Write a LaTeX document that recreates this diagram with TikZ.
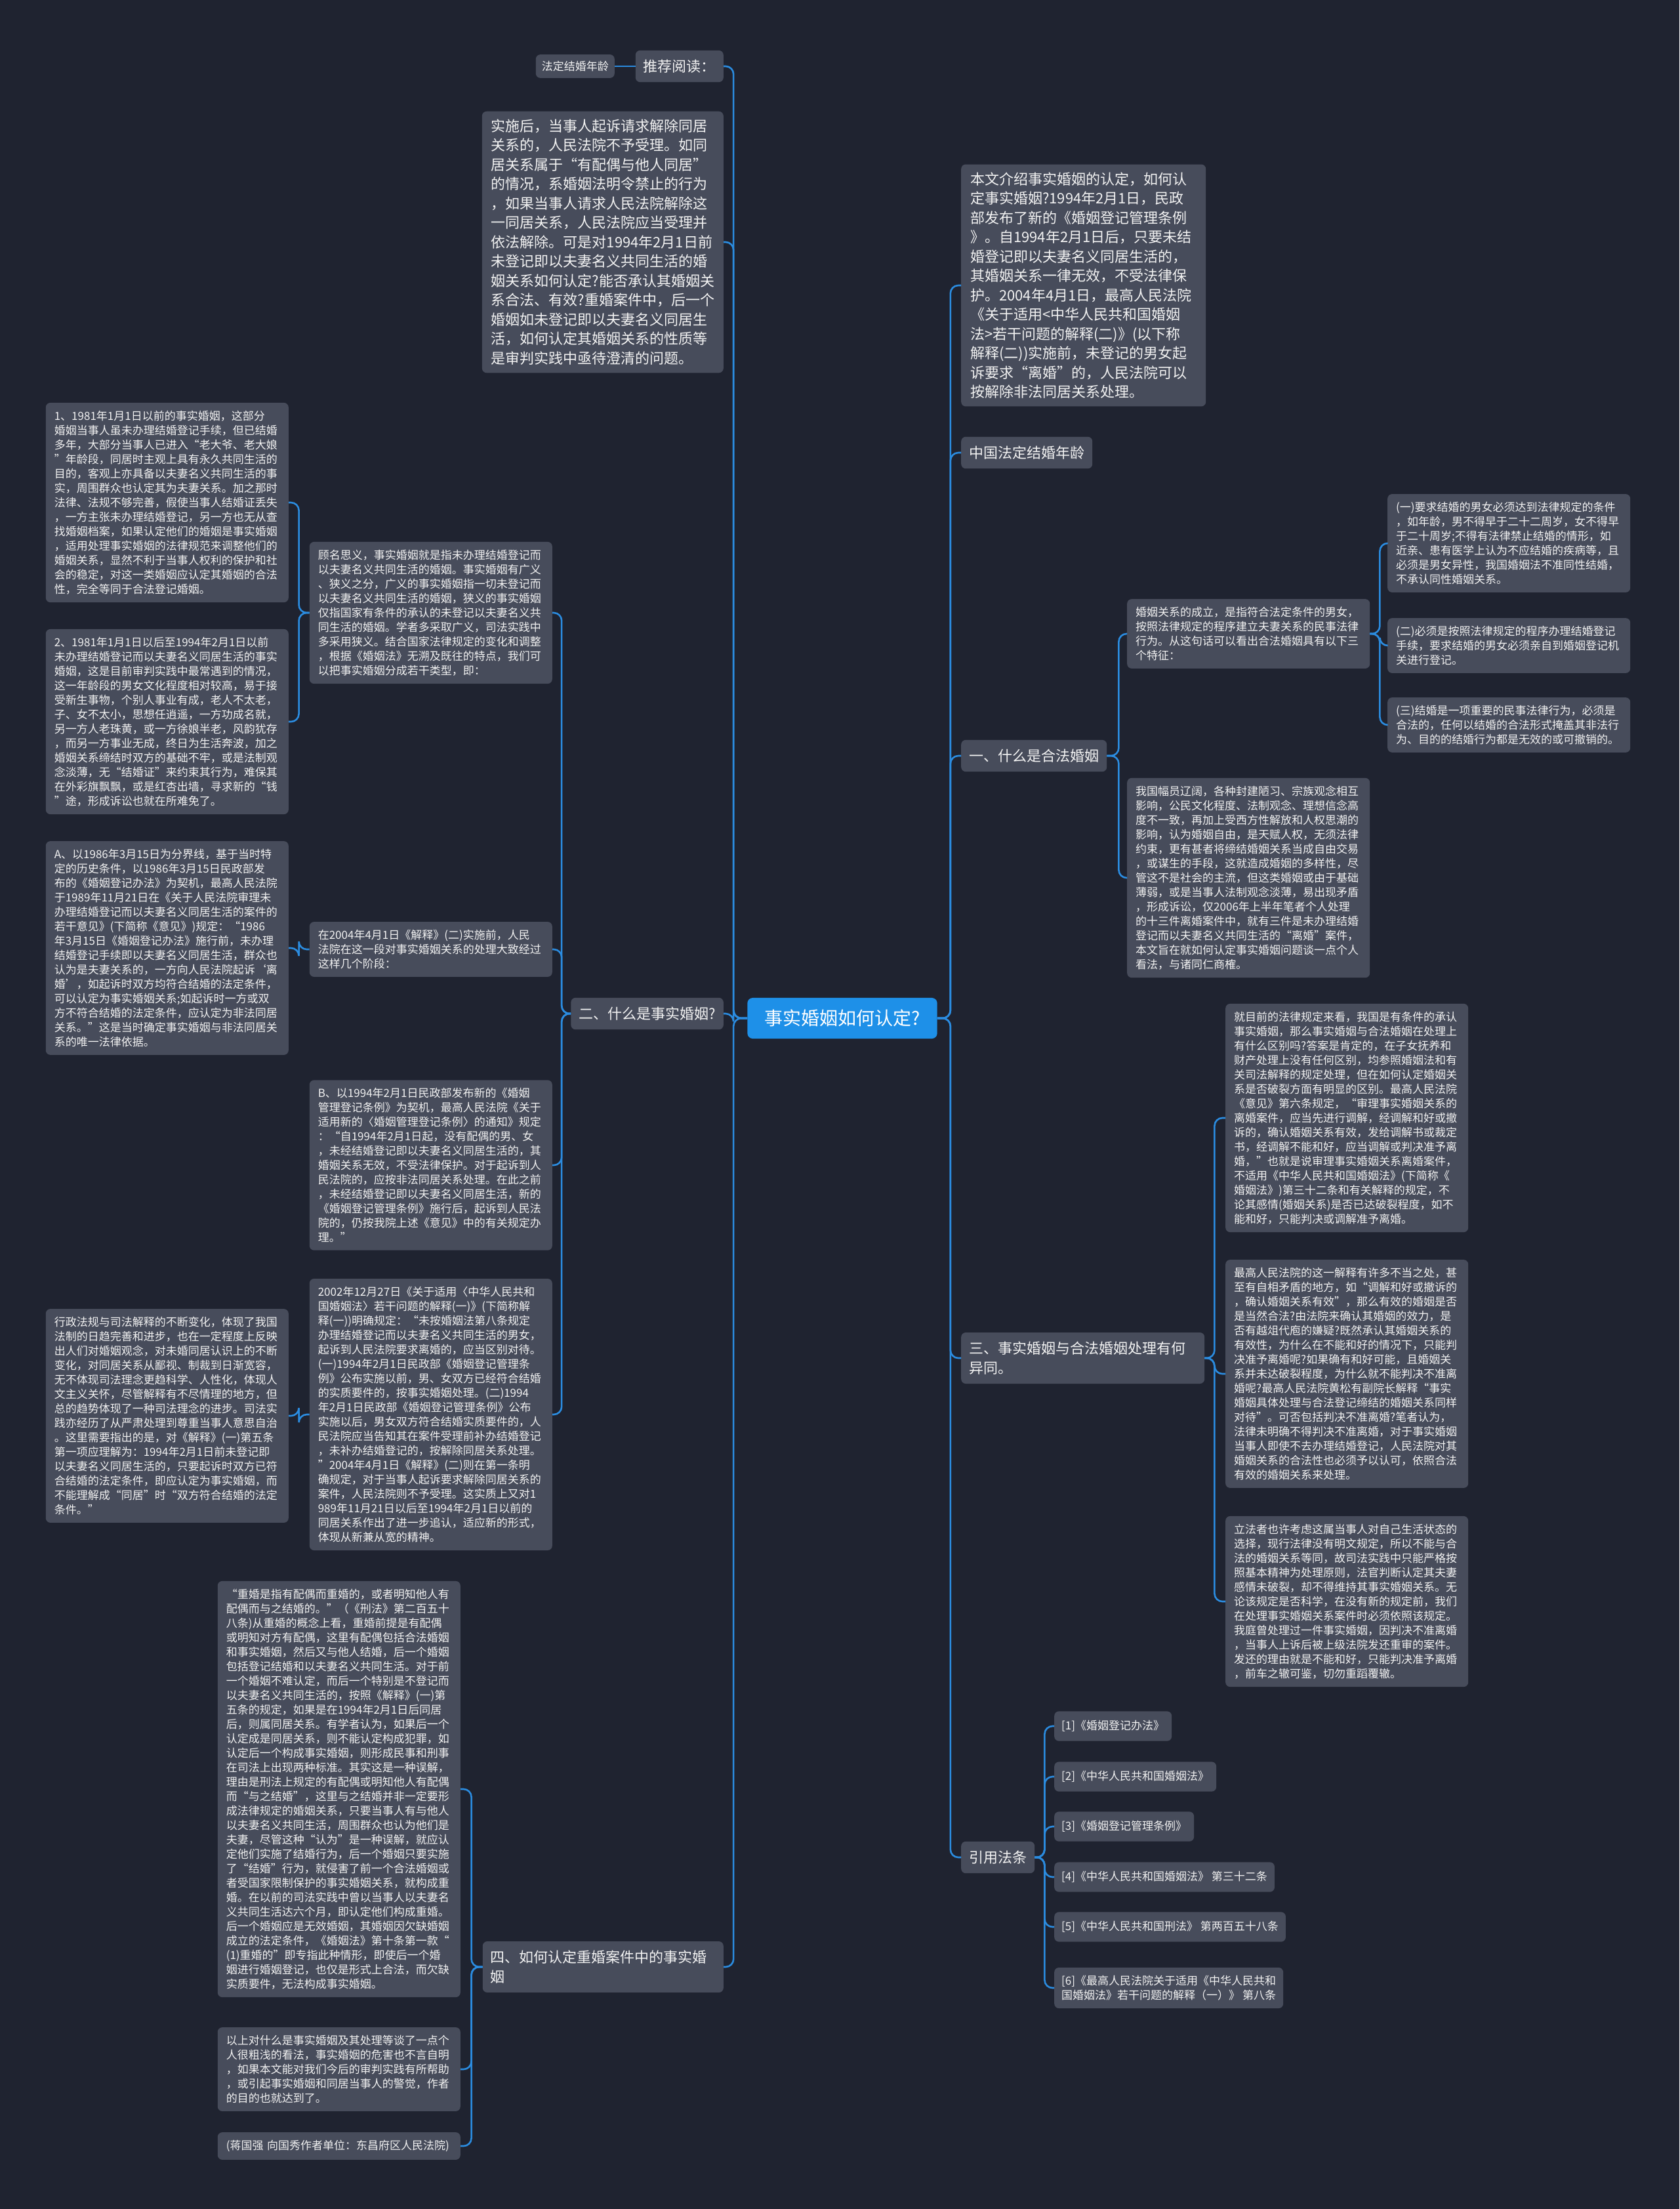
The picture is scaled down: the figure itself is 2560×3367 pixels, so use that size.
\documentclass[tikz,border=0pt]{standalone}
\usepackage{fontspec}
\newfontfamily\cjk{Noto Sans CJK SC}
\definecolor{bgc}{HTML}{1F2330}
\definecolor{boxc}{HTML}{474C5B}
\definecolor{rootc}{HTML}{1E90E8}
\definecolor{linec}{HTML}{2B8CE0}
\definecolor{txt}{HTML}{F2F2F2}
\tikzset{
  basebox/.style={fill=boxc, rounded corners=7pt, text=txt},
  small/.style={basebox, font=\cjk\fontsize{17}{22}\selectfont, inner xsep=13pt, inner ysep=12pt, align=left},
  cbox/.style={small, text width=344pt},
  big/.style={basebox, font=\cjk\fontsize{22}{29.5}\selectfont, inner xsep=12pt, inner ysep=14pt, align=left},
  bigbox/.style={big, text width=345pt, inner xsep=14pt, inner ysep=12pt},
  refbox/.style={small, inner xsep=11pt, inner ysep=14pt},
  rootbox/.style={fill=rootc, rounded corners=8pt, text=white, font=\cjk\fontsize{28}{34}\selectfont, inner xsep=26pt, inner ysep=18pt},
  conn/.style={draw=linec, line width=2.6pt, rounded corners=12pt},
}
\begin{document}
\begin{tikzpicture}[x=1pt,y=-1pt]
\fill[bgc] (0,0) rectangle (2560,3367);
\useasboundingbox (0,0) rectangle (2560,3367);

\node[rootbox] (root) at (1284,1552) {事实婚姻如何认定?};

% ---------- right level 1
\node[bigbox,anchor=west] (R1) at (1465,435) {本文介绍事实婚姻的认定，如何认\\定事实婚姻?1994年2月1日，民政\\部发布了新的《婚姻登记管理条例\\》。自1994年2月1日后，只要未结\\婚登记即以夫妻名义同居生活的，\\其婚姻关系一律无效，不受法律保\\护。2004年4月1日，最高人民法院\\《关于适用<中华人民共和国婚姻\\法>若干问题的解释(二)》(以下称\\解释(二))实施前，未登记的男女起\\诉要求“离婚”的，人民法院可以\\按解除非法同居关系处理。};
\node[big,anchor=west] (R2) at (1465,690) {中国法定结婚年龄};
\node[big,anchor=west] (R3) at (1465,1152) {一、什么是合法婚姻};
\node[big,anchor=west,text width=347pt] (R4) at (1465,2070) {三、事实婚姻与合法婚姻处理有何\\异同。};
\node[big,anchor=west] (R5) at (1465,2831) {引用法条};

% ---------- left level 1
\node[big,anchor=east] (L1) at (1103,101) {推荐阅读：};
\node[small,anchor=east,inner xsep=9pt,inner ysep=10pt] (L1a) at (937,101) {法定结婚年龄};
\node[bigbox,anchor=east,text width=340pt] (L2) at (1103,369) {实施后，当事人起诉请求解除同居\\关系的，人民法院不予受理。如同\\居关系属于“有配偶与他人同居”\\的情况，系婚姻法明令禁止的行为\\，如果当事人请求人民法院解除这\\一同居关系，人民法院应当受理并\\依法解除。可是对1994年2月1日前\\未登记即以夫妻名义共同生活的婚\\姻关系如何认定?能否承认其婚姻关\\系合法、有效?重婚案件中，后一个\\婚姻如未登记即以夫妻名义同居生\\活，如何认定其婚姻关系的性质等\\是审判实践中亟待澄清的问题。};
\node[big,anchor=east] (L3) at (1103,1545) {二、什么是事实婚姻?};
\node[big,anchor=east,text width=343pt] (L4) at (1103,2998) {四、如何认定重婚案件中的事实婚\\姻};

% ---------- under 一、什么是合法婚姻
\node[cbox,anchor=west] (H1) at (1718,966) {婚姻关系的成立，是指符合法定条件的男女，\\按照法律规定的程序建立夫妻关系的民事法律\\行为。从这句话可以看出合法婚姻具有以下三\\个特征：};
\node[cbox,anchor=west] (H2) at (1718,1338) {我国幅员辽阔，各种封建陋习、宗族观念相互\\影响，公民文化程度、法制观念、理想信念高\\度不一致，再加上受西方性解放和人权思潮的\\影响，认为婚姻自由，是天赋人权，无须法律\\约束，更有甚者将缔结婚姻关系当成自由交易\\，或谋生的手段，这就造成婚姻的多样性，尽\\管这不是社会的主流，但这类婚姻或由于基础\\薄弱，或是当事人法制观念淡薄，易出现矛盾\\，形成诉讼，仅2006年上半年笔者个人处理\\的十三件离婚案件中，就有三件是未办理结婚\\登记而以夫妻名义共同生活的“离婚”案件，\\本文旨在就如何认定事实婚姻问题谈一点个人\\看法，与诸同仁商榷。};
\node[cbox,anchor=west] (T1) at (2115,828) {(一)要求结婚的男女必须达到法律规定的条件\\，如年龄，男不得早于二十二周岁，女不得早\\于二十周岁;不得有法律禁止结婚的情形，如\\近亲、患有医学上认为不应结婚的疾病等，且\\必须是男女异性，我国婚姻法不准同性结婚，\\不承认同性婚姻关系。};
\node[cbox,anchor=west] (T2) at (2115,984) {(二)必须是按照法律规定的程序办理结婚登记\\手续，要求结婚的男女必须亲自到婚姻登记机\\关进行登记。};
\node[cbox,anchor=west] (T3) at (2115,1105) {(三)结婚是一项重要的民事法律行为，必须是\\合法的，任何以结婚的合法形式掩盖其非法行\\为、目的的结婚行为都是无效的或可撤销的。};

% ---------- under 三、
\node[cbox,anchor=west] (S1) at (1868,1704) {就目前的法律规定来看，我国是有条件的承认\\事实婚姻，那么事实婚姻与合法婚姻在处理上\\有什么区别吗?答案是肯定的，在子女抚养和\\财产处理上没有任何区别，均参照婚姻法和有\\关司法解释的规定处理，但在如何认定婚姻关\\系是否破裂方面有明显的区别。最高人民法院\\《意见》第六条规定，“审理事实婚姻关系的\\离婚案件，应当先进行调解，经调解和好或撤\\诉的，确认婚姻关系有效，发给调解书或裁定\\书，经调解不能和好，应当调解或判决准予离\\婚，”也就是说审理事实婚姻关系离婚案件，\\不适用《中华人民共和国婚姻法》(下简称《\\婚姻法》)第三十二条和有关解释的规定，不\\论其感情(婚姻关系)是否已达破裂程度，如不\\能和好，只能判决或调解准予离婚。};
\node[cbox,anchor=west] (S2) at (1868,2094) {最高人民法院的这一解释有许多不当之处，甚\\至有自相矛盾的地方，如“调解和好或撤诉的\\，确认婚姻关系有效”，那么有效的婚姻是否\\是当然合法?由法院来确认其婚姻的效力，是\\否有越俎代庖的嫌疑?既然承认其婚姻关系的\\有效性，为什么在不能和好的情况下，只能判\\决准予离婚呢?如果确有和好可能，且婚姻关\\系并未达破裂程度，为什么就不能判决不准离\\婚呢?最高人民法院黄松有副院长解释“事实\\婚姻具体处理与合法登记缔结的婚姻关系同样\\对待”。可否包括判决不准离婚?笔者认为，\\法律未明确不得判决不准离婚，对于事实婚姻\\当事人即使不去办理结婚登记，人民法院对其\\婚姻关系的合法性也必须予以认可，依照合法\\有效的婚姻关系来处理。};
\node[cbox,anchor=west] (S3) at (1868,2441) {立法者也许考虑这属当事人对自己生活状态的\\选择，现行法律没有明文规定，所以不能与合\\法的婚姻关系等同，故司法实践中只能严格按\\照基本精神为处理原则，法官判断认定其夫妻\\感情未破裂，却不得维持其事实婚姻关系。无\\论该规定是否科学，在没有新的规定前，我们\\在处理事实婚姻关系案件时必须依照该规定。\\我庭曾处理过一件事实婚姻，因判决不准离婚\\，当事人上诉后被上级法院发还重审的案件。\\发还的理由就是不能和好，只能判决准予离婚\\，前车之辙可鉴，切勿重蹈覆辙。};

% ---------- references
\node[refbox,anchor=west] (F1) at (1607,2631) {[1]《婚姻登记办法》};
\node[refbox,anchor=west] (F2) at (1607,2708) {[2]《中华人民共和国婚姻法》};
\node[refbox,anchor=west] (F3) at (1607,2784) {[3]《婚姻登记管理条例》};
\node[refbox,anchor=west] (F4) at (1607,2861) {[4]《中华人民共和国婚姻法》 第三十二条};
\node[refbox,anchor=west] (F5) at (1607,2937) {[5]《中华人民共和国刑法》 第两百五十八条};
\node[refbox,anchor=west,inner ysep=12pt] (F6) at (1607,3030) {[6]《最高人民法院关于适用《中华人民共和\\国婚姻法》若干问题的解释（一）》 第八条};

% ---------- middle column (under 二、)
\node[cbox,anchor=east] (M1) at (842,934) {顾名思义，事实婚姻就是指未办理结婚登记而\\以夫妻名义共同生活的婚姻。事实婚姻有广义\\、狭义之分，广义的事实婚姻指一切未登记而\\以夫妻名义共同生活的婚姻，狭义的事实婚姻\\仅指国家有条件的承认的未登记以夫妻名义共\\同生活的婚姻。学者多采取广义，司法实践中\\多采用狭义。结合国家法律规定的变化和调整\\，根据《婚姻法》无溯及既往的特点，我们可\\以把事实婚姻分成若干类型，即：};
\node[cbox,anchor=east] (M2) at (842,1447) {在2004年4月1日《解释》(二)实施前，人民\\法院在这一段对事实婚姻关系的处理大致经过\\这样几个阶段：};
\node[cbox,anchor=east] (M3) at (842,1776) {B、以1994年2月1日民政部发布新的《婚姻\\管理登记条例》为契机，最高人民法院《关于\\适用新的〈婚姻管理登记条例〉的通知》规定\\：“自1994年2月1日起，没有配偶的男、女\\，未经结婚登记即以夫妻名义同居生活的，其\\婚姻关系无效，不受法律保护。对于起诉到人\\民法院的，应按非法同居关系处理。在此之前\\，未经结婚登记即以夫妻名义同居生活，新的\\《婚姻登记管理条例》施行后，起诉到人民法\\院的，仍按我院上述《意见》中的有关规定办\\理。”};
\node[cbox,anchor=east] (M4) at (842,2156) {2002年12月27日《关于适用〈中华人民共和\\国婚姻法〉若干问题的解释(一)》(下简称解\\释(一))明确规定：“未按婚姻法第八条规定\\办理结婚登记而以夫妻名义共同生活的男女，\\起诉到人民法院要求离婚的，应当区别对待。\\(一)1994年2月1日民政部《婚姻登记管理条\\例》公布实施以前，男、女双方已经符合结婚\\的实质要件的，按事实婚姻处理。(二)1994\\年2月1日民政部《婚姻登记管理条例》公布\\实施以后，男女双方符合结婚实质要件的，人\\民法院应当告知其在案件受理前补办结婚登记\\，未补办结婚登记的，按解除同居关系处理。\\”2004年4月1日《解释》(二)则在第一条明\\确规定，对于当事人起诉要求解除同居关系的\\案件，人民法院则不予受理。这实质上又对1\\989年11月21日以后至1994年2月1日以前的\\同居关系作出了进一步追认，适应新的形式，\\体现从新兼从宽的精神。};

% ---------- left column
\node[cbox,anchor=east] (LL1) at (440,766) {1、1981年1月1日以前的事实婚姻，这部分\\婚姻当事人虽未办理结婚登记手续，但已结婚\\多年，大部分当事人已进入“老大爷、老大娘\\”年龄段，同居时主观上具有永久共同生活的\\目的，客观上亦具备以夫妻名义共同生活的事\\实，周围群众也认定其为夫妻关系。加之那时\\法律、法规不够完善，假使当事人结婚证丢失\\，一方主张未办理结婚登记，另一方也无从查\\找婚姻档案，如果认定他们的婚姻是事实婚姻\\，适用处理事实婚姻的法律规范来调整他们的\\婚姻关系，显然不利于当事人权利的保护和社\\会的稳定，对这一类婚姻应认定其婚姻的合法\\性，完全等同于合法登记婚姻。};
\node[cbox,anchor=east] (LL2) at (440,1100) {2、1981年1月1日以后至1994年2月1日以前\\未办理结婚登记而以夫妻名义同居生活的事实\\婚姻，这是目前审判实践中最常遇到的情况，\\这一年龄段的男女文化程度相对较高，易于接\\受新生事物，个别人事业有成，老人不太老，\\子、女不太小，思想任逍遥，一方功成名就，\\另一方人老珠黄，或一方徐娘半老，风韵犹存\\，而另一方事业无成，终日为生活奔波，加之\\婚姻关系缔结时双方的基础不牢，或是法制观\\念淡薄，无“结婚证”来约束其行为，难保其\\在外彩旗飘飘，或是红杏出墙，寻求新的“钱\\”途，形成诉讼也就在所难免了。};
\node[cbox,anchor=east] (LL3) at (440,1445) {A、以1986年3月15日为分界线，基于当时特\\定的历史条件，以1986年3月15日民政部发\\布的《婚姻登记办法》为契机，最高人民法院\\于1989年11月21日在《关于人民法院审理未\\办理结婚登记而以夫妻名义同居生活的案件的\\若干意见》(下简称《意见》)规定：“1986\\年3月15日《婚姻登记办法》施行前，未办理\\结婚登记手续即以夫妻名义同居生活，群众也\\认为是夫妻关系的，一方向人民法院起诉‘离\\婚’，如起诉时双方均符合结婚的法定条件，\\可以认定为事实婚姻关系;如起诉时一方或双\\方不符合结婚的法定条件，应认定为非法同居\\关系。”这是当时确定事实婚姻与非法同居关\\系的唯一法律依据。};
\node[cbox,anchor=east] (LL4) at (440,2158) {行政法规与司法解释的不断变化，体现了我国\\法制的日趋完善和进步，也在一定程度上反映\\出人们对婚姻观念，对未婚同居认识上的不断\\变化，对同居关系从鄙视、制裁到日渐宽容，\\无不体现司法理念更趋科学、人性化，体现人\\文主义关怀，尽管解释有不尽情理的地方，但\\总的趋势体现了一种司法理念的进步。司法实\\践亦经历了从严肃处理到尊重当事人意思自治\\。这里需要指出的是，对《解释》(一)第五条\\第一项应理解为：1994年2月1日前未登记即\\以夫妻名义同居生活的，只要起诉时双方已符\\合结婚的法定条件，即应认定为事实婚姻，而\\不能理解成“同居”时“双方符合结婚的法定\\条件。”};

% ---------- bottom (under 四、)
\node[cbox,anchor=east] (B1) at (702,2727) {“重婚是指有配偶而重婚的，或者明知他人有\\配偶而与之结婚的。”（《刑法》第二百五十\\八条)从重婚的概念上看，重婚前提是有配偶\\或明知对方有配偶，这里有配偶包括合法婚姻\\和事实婚姻，然后又与他人结婚，后一个婚姻\\包括登记结婚和以夫妻名义共同生活。对于前\\一个婚姻不难认定，而后一个特别是不登记而\\以夫妻名义共同生活的，按照《解释》(一)第\\五条的规定，如果是在1994年2月1日后同居\\后，则属同居关系。有学者认为，如果后一个\\认定成是同居关系，则不能认定构成犯罪，如\\认定后一个构成事实婚姻，则形成民事和刑事\\在司法上出现两种标准。其实这是一种误解，\\理由是刑法上规定的有配偶或明知他人有配偶\\而“与之结婚”，这里与之结婚并非一定要形\\成法律规定的婚姻关系，只要当事人有与他人\\以夫妻名义共同生活，周围群众也认为他们是\\夫妻，尽管这种“认为”是一种误解，就应认\\定他们实施了结婚行为，后一个婚姻只要实施\\了“结婚”行为，就侵害了前一个合法婚姻或\\者受国家限制保护的事实婚姻关系，就构成重\\婚。在以前的司法实践中曾以当事人以夫妻名\\义共同生活达六个月，即认定他们构成重婚。\\后一个婚姻应是无效婚姻，其婚姻因欠缺婚姻\\成立的法定条件，《婚姻法》第十条第一款“\\(1)重婚的”即专指此种情形，即使后一个婚\\姻进行婚姻登记，也仅是形式上合法，而欠缺\\实质要件，无法构成事实婚姻。};
\node[cbox,anchor=east] (B2) at (702,3154) {以上对什么是事实婚姻及其处理等谈了一点个\\人很粗浅的看法，事实婚姻的危害也不言自明\\，如果本文能对我们今后的审判实践有所帮助\\，或引起事实婚姻和同居当事人的警觉，作者\\的目的也就达到了。};
\node[cbox,anchor=east] (B3) at (702,3271) {(蒋国强 向国秀作者单位：东昌府区人民法院)};

% ---------- connectors
\foreach \c in {L1,L2,L3,L4} \draw[conn] (root.west) -- ++(-21,0) |- (\c.east);
\foreach \c in {R1,R2,R3,R4,R5} \draw[conn] (root.east) -- ++(20,0) |- (\c.west);
\draw[conn] (L1.west) -- (L1a.east);
\foreach \c in {H1,H2} \draw[conn] (R3.east) -- ++(18,0) |- (\c.west);
\foreach \c in {T1,T2,T3} \draw[conn] (H1.east) -- ++(15,0) |- (\c.west);
\foreach \c in {S1,S2,S3} \draw[conn] (R4.east) -- ++(15,0) |- (\c.west);
\foreach \c in {F1,F2,F3,F4,F5,F6} \draw[conn] (R5.east) -- ++(15,0) |- (\c.west);
\foreach \c in {M1,M2,M3,M4} \draw[conn] (L3.west) -- ++(-14,0) |- (\c.east);
\foreach \c in {LL1,LL2} \draw[conn] (M1.west) -- ++(-16,0) |- (\c.east);
\draw[conn] (M2.west) -- ++(-16,0) |- (LL3.east);
\draw[conn] (M4.west) -- ++(-16,0) |- (LL4.east);
\foreach \c in {B1,B2,B3} \draw[conn] (L4.west) -- ++(-17,0) |- (\c.east);
\end{tikzpicture}
\end{document}
